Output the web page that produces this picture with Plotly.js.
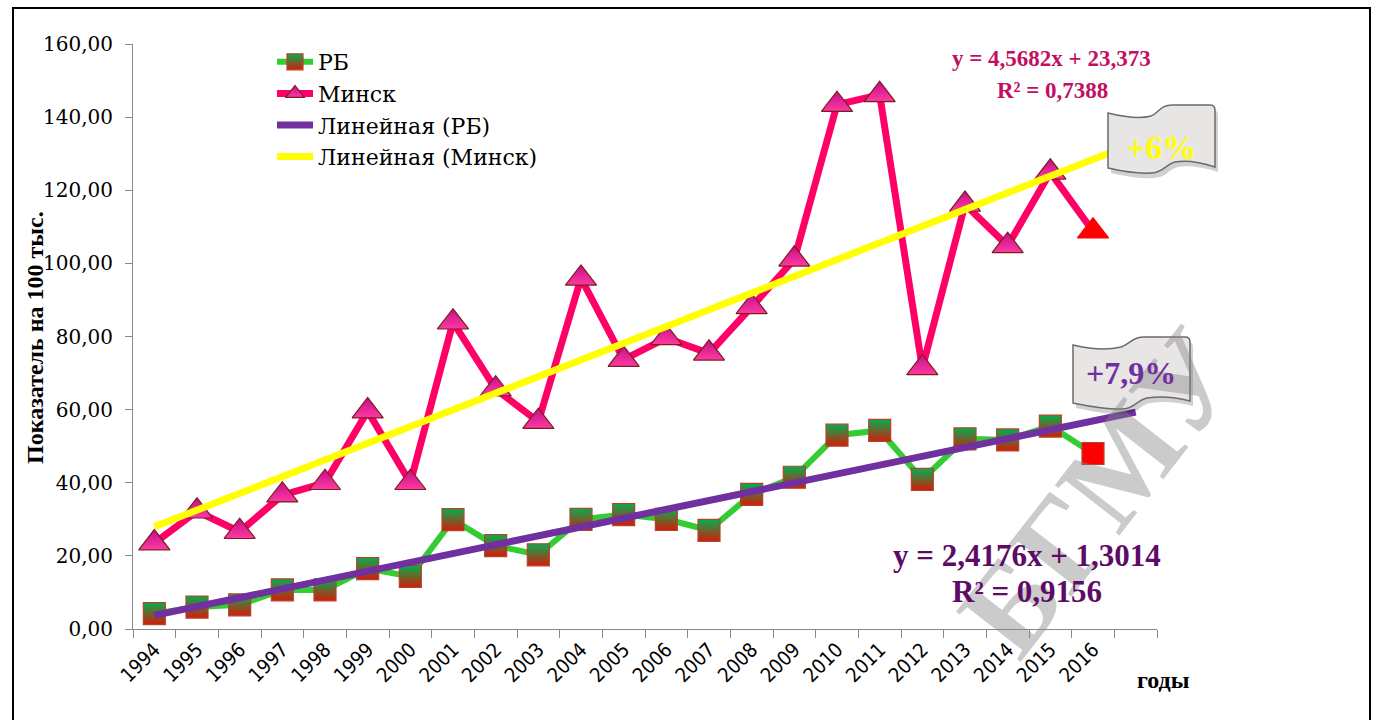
<!DOCTYPE html>
<html>
<head>
<meta charset="utf-8">
<script src="https://cdn.plot.ly/plotly-3.0.1.min.js"></script>
<style>
html,body{margin:0;padding:0;background:#fff;}
#chart{width:1376px;height:720px;}
</style>
</head>
<body>
<div id="chart"></div>
<script>
// ---- data ----
const years = ['1994','1995','1996','1997','1998','1999','2000','2001','2002','2003','2004','2005','2006','2007','2008','2009','2010','2011','2012','2013','2014','2015','2016'];
const extraCategory = ' ';
const rbValues = [4.2, 6.0, 6.6, 10.7, 10.7, 16.5, 14.4, 29.9, 22.8, 20.3, 30.0, 31.3, 30.0, 27.0, 36.8, 41.5, 53.0, 54.3, 40.9, 52.0, 51.7, 55.5, 48.0];
const minskValues = [23.5, 32.2, 26.6, 36.6, 40.0, 59.6, 40.0, 83.9, 65.6, 56.7, 95.9, 73.7, 79.6, 75.4, 88.1, 101.1, 143.4, 146.1, 71.4, 116.1, 104.8, 124.9, 108.8];
const rbTrendCoef = [2.4176, 1.3014];      // slope, intercept (x = 1..n)
const minskTrendCoef = [4.5682, 23.373];
const trendX = [1, 24];                    // first category .. one period forward
const seriesNames = ['РБ', 'Минск', 'Линейная (РБ)', 'Линейная (Минск)'];
const rbEquation = ['y = 2,4176x + 1,3014', 'R² = 0,9156'];
const minskEquation = ['y = 4,5682x + 23,373', 'R² = 0,7388'];
const growthLabels = ['+6%', '+7,9%'];
const yTitle = 'Показатель на 100 тыс.';
const xTitle = 'годы';
const watermark = 'БГМУ';

const categories = years.concat([extraCategory]);
const trendCat = trendX.map(i => categories[i - 1]);
const trendY = (c) => trendX.map(x => c[0] * x + c[1]);

// ---- geometry helpers (plot area in page pixels) ----
const PL = 133, PR = 1157, PT = 44, PB = 629;
const px = x => (x - PL) / (PR - PL);
const py = y => (PB - y) / (PB - PT);
function pathFrom(cmds) {
  return cmds.map(c => {
    if (c[0] === 'Z') return 'Z';
    const pts = [];
    for (let i = 1; i < c.length; i += 2) pts.push(px(c[i]).toFixed(5) + ',' + py(c[i + 1]).toFixed(5));
    return c[0] + pts.join(' ');
  }).join(' ');
}
function shifted(cmds, dx, dy) {
  return cmds.map(c => c[0] === 'Z' ? c : [c[0]].concat(c.slice(1).map((v, i) => v + (i % 2 === 0 ? dx : dy))));
}
const banner1 = [
  ['M', 1108, 113],
  ['C', 1124, 117, 1140, 119, 1151, 116],
  ['C', 1159, 113, 1160, 105, 1172, 105],
  ['L', 1210, 105],
  ['Q', 1215, 105, 1215, 110],
  ['L', 1215, 167],
  ['C', 1200, 162, 1186, 160, 1175, 162],
  ['C', 1166, 164, 1163, 173, 1151, 173],
  ['C', 1136, 174, 1121, 171, 1108, 168],
  ['Z']
];
const banner2 = [
  ['M', 1073, 345],
  ['C', 1090, 349, 1108, 350, 1121, 347],
  ['C', 1130, 344, 1132, 337, 1144, 337],
  ['L', 1185, 337],
  ['Q', 1190, 337, 1190, 342],
  ['L', 1190, 401],
  ['C', 1175, 397, 1160, 396, 1147, 398],
  ['C', 1137, 400, 1134, 409, 1122, 409],
  ['C', 1105, 410, 1088, 406, 1073, 403],
  ['Z']
];

const serif = 'Liberation Serif, Times New Roman, serif';
const wideSerif = 'DejaVu Serif, serif';

const traces = [
  {
    name: seriesNames[0], x: years, y: rbValues, type: 'scatter', mode: 'lines+markers',
    legendgroup: 'g1',
    line: {color: '#33CC33', width: 6},
    marker: {
      symbol: 'square', size: 22,
      color: years.map((_, i) => i === years.length - 1 ? '#FF0000' : '#00B050'),
      gradient: {type: 'vertical', color: years.map((_, i) => i === years.length - 1 ? '#FF0000' : '#D41A0A')},
      line: {color: '#B5432A', width: 1.2}
    }
  },
  {
    name: seriesNames[1], x: years, y: minskValues, type: 'scatter', mode: 'lines+markers',
    legendgroup: 'g2',
    line: {color: '#FF0066', width: 7},
    marker: {
      symbol: 'triangle-up', size: 27,
      color: years.map((_, i) => i === years.length - 1 ? '#FF0000' : '#C40E8C'),
      gradient: {type: 'vertical', color: years.map((_, i) => i === years.length - 1 ? '#FF0000' : '#FF3AA0')},
      line: {color: years.map((_, i) => i === years.length - 1 ? '#FF0000' : '#7A1E1E'), width: 1.2}
    }
  },
  {
    name: seriesNames[2], x: trendCat, y: trendY(rbTrendCoef), type: 'scatter', mode: 'lines',
    legendgroup: 'g3',
    line: {color: '#7030A0', width: 7}
  },
  {
    name: seriesNames[3], x: trendCat, y: trendY(minskTrendCoef), type: 'scatter', mode: 'lines',
    legendgroup: 'g4',
    line: {color: '#FFFF00', width: 7}
  }
];

const shapes = [
  {type: 'rect', xref: 'paper', yref: 'paper', x0: px(13), x1: px(1370), y0: py(8), y1: py(730),
   line: {color: '#000', width: 2}, fillcolor: 'rgba(0,0,0,0)', layer: 'below'},
  {type: 'path', xref: 'paper', yref: 'paper', path: pathFrom(shifted(banner1, 3, 5)), fillcolor: 'rgba(0,0,0,0.18)', line: {width: 0}},
  {type: 'path', xref: 'paper', yref: 'paper', path: pathFrom(banner1), fillcolor: '#E8E5E5', line: {color: '#6E6A6A', width: 1.5}},
  {type: 'path', xref: 'paper', yref: 'paper', path: pathFrom(shifted(banner2, 3, 5)), fillcolor: 'rgba(0,0,0,0.18)', line: {width: 0}},
  {type: 'path', xref: 'paper', yref: 'paper', path: pathFrom(banner2), fillcolor: '#E8E5E5', line: {color: '#6E6A6A', width: 1.5}}
];

function ann(text, x, y, size, color, extra) {
  return Object.assign({
    text: text, xref: 'paper', yref: 'paper', x: px(x), y: py(y), showarrow: false,
    xanchor: 'center', yanchor: 'middle',
    font: {family: serif, size: size, color: color}
  }, extra || {});
}

const annotations = [
  ann('<b>' + watermark + '</b>', 1100, 492, 125, 'rgba(130,130,130,0.42)', {textangle: -52}),
  ann('<b>' + minskEquation[0] + '</b>', 1051, 58, 23, '#C20F62'),
  ann('<b>' + minskEquation[1] + '</b>', 1052, 90, 23, '#C20F62'),
  ann('<b>' + rbEquation[0] + '</b>', 1027, 555, 31, '#5E0B66'),
  ann('<b>' + rbEquation[1] + '</b>', 1027, 591, 31, '#5E0B66'),
  ann('<b>' + growthLabels[0] + '</b>', 1161, 147, 34, '#FFFF00'),
  ann('<b>' + growthLabels[1] + '</b>', 1131, 373, 32, '#7030A0'),
  ann('<b>' + yTitle + '</b>', 35, 338, 24, '#000', {textangle: -90}),
  ann('<b>' + xTitle + '</b>', 1163, 680, 24, '#000')
];

const layout = {
  width: 1376, height: 720,
  margin: {l: PL, r: 1376 - PR, t: PT, b: 720 - PB, pad: 0},
  paper_bgcolor: '#fff', plot_bgcolor: '#fff',
  separators: ', ',
  showlegend: true,
  legend: {
    x: px(272), y: py(41), xanchor: 'left', yanchor: 'top',
    font: {family: wideSerif, size: 22, color: '#000'},
    bgcolor: 'rgba(0,0,0,0)', traceorder: 'grouped', tracegroupgap: 0, itemwidth: 36
  },
  xaxis: {
    type: 'category', categoryorder: 'array', categoryarray: categories,
    range: [-0.5, categories.length - 0.5],
    tickson: 'boundaries', ticks: 'outside', ticklen: 8, tickcolor: '#888', tickwidth: 1,
    showline: true, linecolor: '#888', linewidth: 1, showgrid: false, zeroline: false,
    tickangle: -45, tickfont: {family: 'DejaVu Sans Condensed, DejaVu Sans', size: 20, color: '#000'},
    fixedrange: true
  },
  yaxis: {
    range: [0, 160], dtick: 20, tick0: 0, tickformat: '.2f',
    ticks: 'outside', ticklen: 7, tickcolor: '#888', tickwidth: 1,
    showline: true, linecolor: '#888', linewidth: 1, showgrid: false, zeroline: false,
    tickfont: {family: wideSerif, size: 20, color: '#000'},
    ticklabelstandoff: 8,
    fixedrange: true
  },
  shapes: shapes,
  annotations: annotations
};

Plotly.newPlot('chart', traces, layout, {displayModeBar: false, staticPlot: true});
</script>
</body>
</html>
